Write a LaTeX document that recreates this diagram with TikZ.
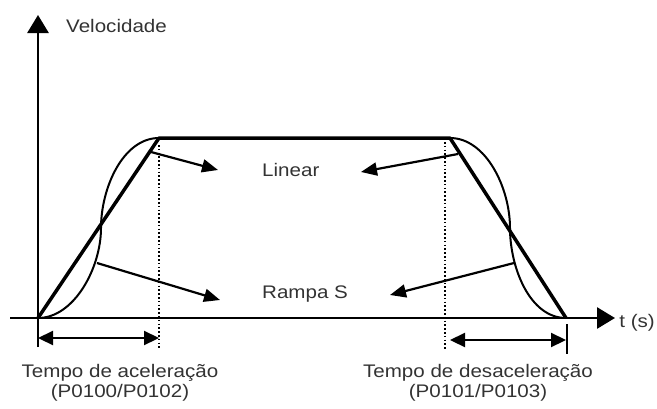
\documentclass[tikz,border=0pt]{standalone}
\usepackage{fontspec}
\setmainfont{Liberation Sans}[FakeStretch=1.13]
\usetikzlibrary{arrows.meta}
\definecolor{txt}{HTML}{333333}
\begin{document}
\begin{tikzpicture}[x=1pt,y=-1pt,
 lbl/.style={text=txt,font=\fontsize{18.2}{20.5}\selectfont,inner sep=0pt},
 axis/.style={line width=2.8pt,-{Triangle[length=18pt,width=21pt]}},
 ramp/.style={line width=3.5pt,line join=round},
 scurve/.style={line width=2pt},
 ptr/.style={line width=2.2pt,-{Triangle[length=16pt,width=13pt]}},
 dim/.style={line width=2.2pt,{Triangle[length=15pt,width=14pt]}-{Triangle[length=15pt,width=14pt]}},
 guide/.style={line width=1.6pt,dash pattern=on 1.6pt off 2.2pt}]
\useasboundingbox (0,0) rectangle (657,408);
% key points
\coordinate (O) at (38,318);
\coordinate (ytop) at (38,15);
\coordinate (ybot) at (38,347);
\coordinate (xleft) at (10,318);
\coordinate (xright) at (615,318);
\coordinate (A) at (159,138);
\coordinate (B) at (450,138);
\coordinate (C) at (566,318);
% axes
\draw[axis] (ybot) -- (ytop);
\draw[axis] (xleft) -- (xright);
% guides
\coordinate (g1a) at (159,145); \coordinate (g1b) at (159,350);
\coordinate (g2a) at (445,142); \coordinate (g2b) at (445,350);
\draw[guide] (g1a) -- (g1b);
\draw[guide] (g2a) -- (g2b);
% linear profile
\draw[ramp] (O) -- (A) -- (B) -- (C);
% S profiles
\draw[scurve] (O) .. controls (74,318) and (101,268) .. (101,228) .. controls (101,188) and (123,138) .. (A);
\draw[scurve] (B) .. controls (486,138) and (510,188) .. (510,228) .. controls (510,268) and (530,318) .. (C);
% time spans
\coordinate (d1a) at (38,338); \coordinate (d1b) at (159,338);
\coordinate (d2a) at (450,340); \coordinate (d2b) at (566,340);
\coordinate (bar1) at (567,324); \coordinate (bar2) at (567,354);
\draw[dim] (d1a) -- (d1b);
\draw[dim] (d2a) -- (d2b);
\draw[line width=2.5pt] (bar1) -- (bar2);
% labels
\node[lbl,anchor=base west] (vel) at (66,32) {Velocidade};
\node[lbl,anchor=base west] (lin) at (262,176) {Linear};
\node[lbl,anchor=base west] (ram) at (262,298) {Rampa S};
\node[lbl,anchor=base east] (ts) at (655,327) {t (s)};
\node[lbl,anchor=north,align=center] (tac) at (120,364) {Tempo de aceleração\\(P0100/P0102)};
\node[lbl,anchor=north,align=center] (tde) at (478,364) {Tempo de desaceleração\\(P0101/P0103)};
% pointers
\coordinate (p1) at (151,152); \coordinate (p1t) at (218,170);
\coordinate (p2) at (97,263);  \coordinate (p2t) at (220,300);
\coordinate (p3) at (458,154); \coordinate (p3t) at (361,172);
\coordinate (p4) at (514,263); \coordinate (p4t) at (390,295);
\draw[ptr] (p1) -- (p1t);
\draw[ptr] (p2) -- (p2t);
\draw[ptr] (p3) -- (p3t);
\draw[ptr] (p4) -- (p4t);
\end{tikzpicture}
\end{document}
